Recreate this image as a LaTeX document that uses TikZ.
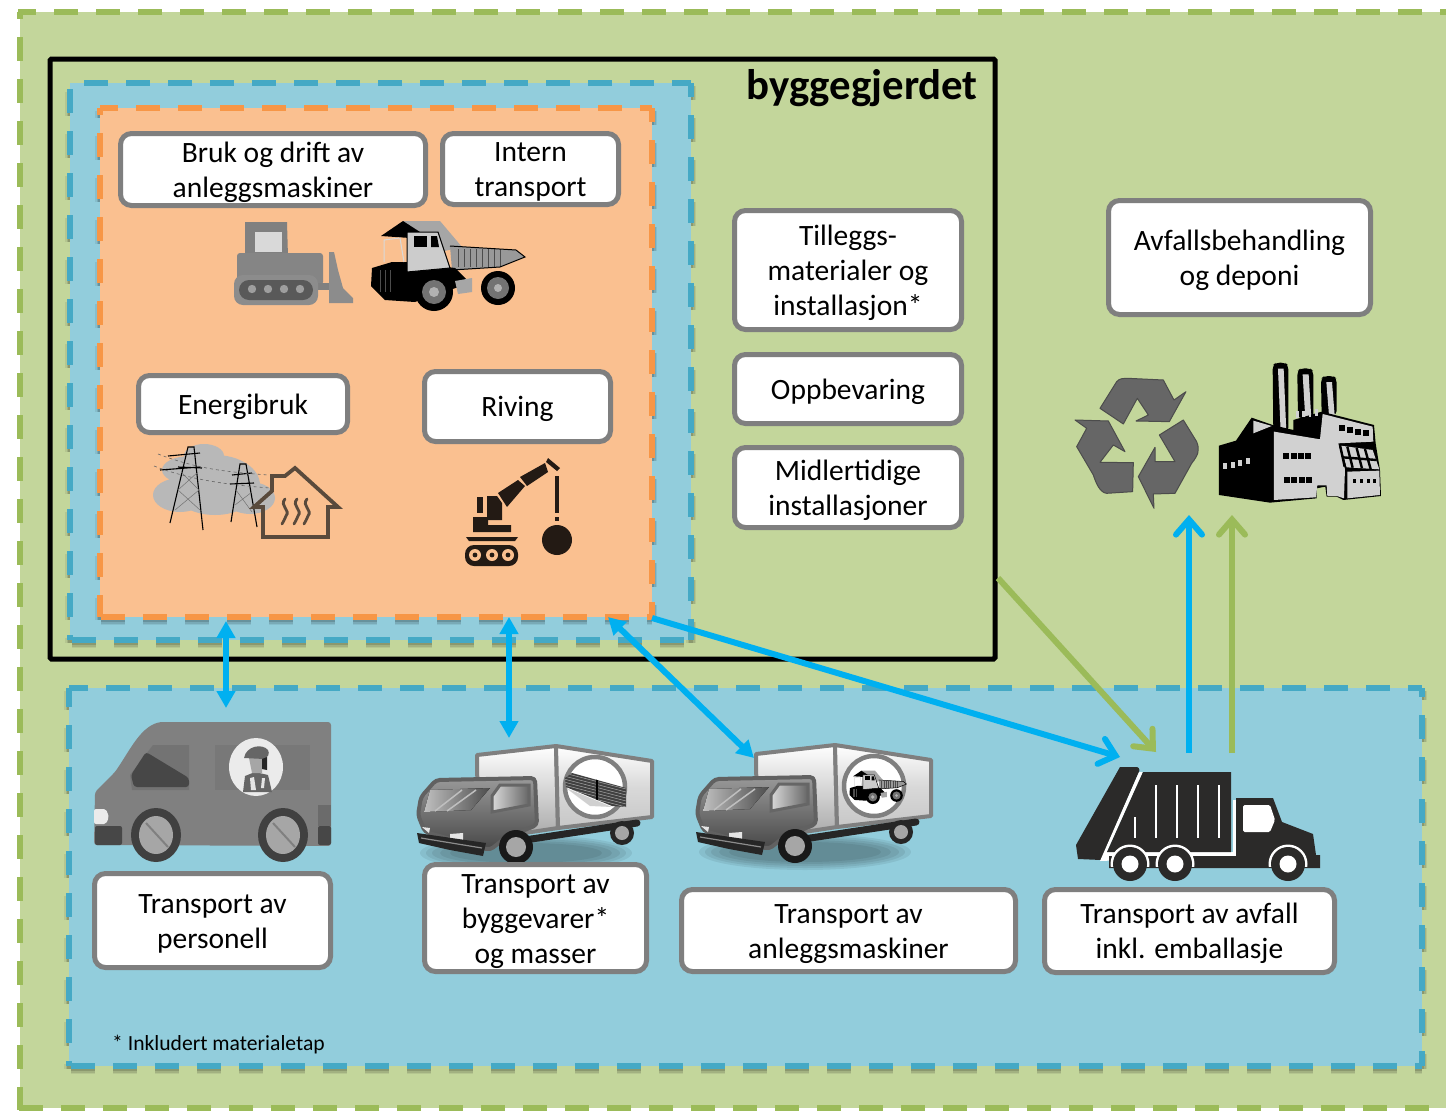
\documentclass[tikz,border=0pt]{standalone}
\usepackage{fontspec}
\setmainfont{Carlito}
\usetikzlibrary{arrows.meta,shapes.geometric}
\definecolor{grfill}{HTML}{C3D69B}
\definecolor{grdash}{HTML}{9BBB59}
\definecolor{blfill}{HTML}{92CDDC}
\definecolor{bldash}{HTML}{45A9C5}
\definecolor{orfill}{HTML}{FAC090}
\definecolor{ordash}{HTML}{F79646}
\definecolor{arblue}{HTML}{00B0F0}
\definecolor{boxgray}{HTML}{7F7F7F}
\definecolor{craned}{HTML}{231A14}
\definecolor{garb}{HTML}{2B2A29}
\definecolor{houseb}{HTML}{594A3C}
\newcommand{\tsa}{\rule{0pt}{26pt}}
\newcommand{\tsb}{\rule[-6pt]{0pt}{6pt}}
\tikzset{
  boxn/.style={draw=boxgray,line width=5pt,fill=white,rounded corners=11pt,align=center,inner sep=0pt,text=black,
    font=\fontsize{29.5}{35}\selectfont},
  dblarrow/.style={draw=arblue,line width=6pt,{Triangle[width=18pt,length=17pt]}-{Triangle[width=18pt,length=17pt]}},
  openarrow/.style={line width=6pt,-{Straight Barb[length=15pt,width=26pt,line cap=round,line width=6pt]}},
  edge5/.style={line width=5.5pt,dash pattern=on 24pt off 18pt},
}
% x1 y1 x2 y2 colour, phase top right bottom left
\newcommand{\frameedges}[9]{%
  \draw[edge5,draw=#5,dash phase=#6pt] (#1,#2) -- (#3,#2);
  \draw[edge5,draw=#5,dash phase=#7pt] (#3,#2) -- (#3,#4);
  \draw[edge5,draw=#5,dash phase=#8pt] (#1,#4) -- (#3,#4);
  \draw[edge5,draw=#5,dash phase=#9pt] (#1,#2) -- (#1,#4);
}
% x1 y1 x2 y2, phase right bottom left
\newcommand{\frameshadow}[7]{%
  \begin{scope}[shift={(0,3)},draw=black,dash pattern=on 24pt off 18pt]
   \foreach \lw/\op in {10/.07,7/.1,4/.14}{
    \draw[line width=\lw pt,draw opacity=\op,dash phase=#5pt] (#3,#2) -- (#3,#4);
    \draw[line width=\lw pt,draw opacity=\op,dash phase=#6pt] (#1,#4) -- (#3,#4);
    \draw[line width=\lw pt,draw opacity=\op,dash phase=#7pt] (#1,#2) -- (#1,#4);
   }
  \end{scope}
}
% mining dump truck, drawn around (448,265)
\newcommand{\dumptruck}[1]{%
  \fill[black!35] (403,221) -- (440,221) -- (462,247) -- (440,252) -- (410,232) -- cycle;
  \fill[black] (381,236) -- (403,221) -- (420,232) -- (410,238) -- cycle;
  \fill[black!40] (450,246) -- (516,250) -- (525,257) -- (500,267) -- (452,270) -- cycle;
  \foreach \xx in {458,464,470,476,482,488,494,500}{\draw[black!70,line width=#1] (\xx,249) -- (\xx,267);}
  \draw[black,line width=#1] (450,246) -- (516,250) -- (525,257) -- (500,267) -- (452,270);
  \fill[black] (371,286) -- (372,268) -- (392,262) -- (408,262) -- (455,268) -- (470,283) -- (415,302) -- (385,300) -- cycle;
  \draw[black!70,line width=#1] (380,270) -- (380,292) (385,270) -- (385,292) (390,270) -- (390,292);
  \draw[black,fill=black!20,line width=#1] (407,232) -- (438,232) -- (450,268) -- (407,272) -- cycle;
  \fill[black] (414,236) -- (427,236) -- (427,247) -- (414,247) -- cycle;
  \fill[black] (431,236) -- (437,236) -- (439,247) -- (431,247) -- cycle;
  \draw[black!15,line width=#1] (384,262) -- (384,240) -- (400,238) -- (404,262);
  \fill[black!35] (455,281) -- (472,278) -- (472,292) -- (458,294) -- cycle;
  \fill[black] (434,292) circle (19pt);
  \fill[black!55] (434,292) circle (12pt);
  \fill[black!30] (434,292) circle (5pt);
  \fill[black] (498,288) circle (17pt);
  \fill[black!55] (498,288) circle (11pt);
  \fill[black!30] (498,288) circle (4pt);
}
% box truck, drawn in the coordinates of the first one
\newcommand{\boxtruck}{%
  \foreach \sx/\sy in {106/18,100/16,94/14,86/12,76/10}{\fill[black,opacity=.07] (526,853) ellipse (\sx pt and \sy pt);}
  \draw[boxgray,line width=4pt,top color=white,bottom color=black!35,line join=round] (477,755) -- (556,746) -- (558,828) -- (478,840) -- cycle;
  \draw[boxgray,line width=4pt,top color=white,bottom color=black!22,middle color=white!85!black,line join=round] (556,746) -- (652,761) -- (652,817) -- (558,828) -- cycle;
  \draw[black!85,line width=7pt,line cap=round] (505,843) -- (637,823);
  \fill[black!85] (622,833) circle (12pt);
  \fill[black!35] (622,833) circle (7pt);
  \draw[black!62,line width=4pt,top color=black!40,bottom color=black!72,line join=round,rounded corners=4pt] (436,780) -- (535,778) -- (537,825) -- (505,838) -- (490,850) -- (425,832) -- (418,815) -- (421,797) -- cycle;
  \fill[left color=black!25,right color=black!70] (430,790) -- (490,788) -- (471,810) -- (424,812) -- cycle;
  \draw[white!75!black,line width=1.5pt] (435,811) -- (462,790) (447,811) -- (476,790);
  \draw[black!60,line width=3pt,left color=black!15,right color=black!60] (500,785) -- (529,785) -- (529,805) -- (492,812) -- (492,796) -- cycle;
  \fill[black!10] (450,834) -- (463,833) -- (463,840) -- (450,840) -- cycle;
  \fill[black!10] (422,827) -- (430,828) -- (429,833) -- cycle;
  \fill[black!85,line join=round] (417,833) -- (486,843) -- (483,856) -- (450,850) -- (419,843) -- cycle;
  \draw[black!45,line width=1.2pt] (421,838) -- (482,848);
  \fill[black!90] (516,847) circle (17pt);
  \fill[black!35] (516,847) circle (10pt);
  \draw[boxgray,line width=4.5pt,fill=white] (595,787) circle (30pt);
}
\begin{document}
\begin{tikzpicture}[x=1pt,y=-1pt]
\useasboundingbox (0,0) rectangle (1446,1111);
\clip (0,0) rectangle (1446,1111);
\fill[white] (0,0) rectangle (1446,1111);
% outer frame
\fill[grfill] (20,12) rectangle (1450,1108);
\draw[edge5,draw=grdash,dash phase=6pt] (18,12) -- (1450,12);
\draw[edge5,draw=grdash,dash phase=41pt] (18,1108) -- (1450,1108);
\draw[edge5,draw=grdash,dash phase=17pt] (20,12) -- (20,1110);
% site fence
\draw[black,line width=5pt,rounded corners=1.5pt] (50,59) rectangle (995,659);
% blue frame inside the fence
\frameshadow{70}{83}{691}{640}{10}{40}{36}
\fill[blfill] (70,83) rectangle (691,640);
\frameedges{70}{83}{691}{640}{bldash}{28}{10}{40}{36}
% orange frame
\frameshadow{100}{108}{652}{617}{10}{41}{17}
\fill[orfill] (100,108) rectangle (652,617);
\frameedges{100}{108}{652}{617}{ordash}{6}{10}{41}{17}
% lower blue frame
\frameshadow{69}{688}{1422}{1066}{15}{40}{5}
\fill[blfill] (69,688) rectangle (1422,1066);
\frameedges{69}{688}{1422}{1066}{bldash}{5}{15}{40}{5}
% heading and footnote
\node[anchor=east,inner sep=0pt,font=\fontsize{42.8}{48}\selectfont\bfseries] (fence) at (978,88) {byggegjerdet};
\node[anchor=west,inner sep=0pt,font=\fontsize{21.6}{24}\selectfont] (note) at (112,1045) {* Inkludert materialetap};
% bulldozer
\begin{scope}
  \fill[black!50] (245,222) -- (287,222) -- (288,257) -- (245,257) -- cycle;
  \fill[black!15] (255,232) rectangle (282,252);
  \fill[black!48,rounded corners=3pt] (237,253) rectangle (323,285);
  \fill[black!50] (312,283) rectangle (330,290);
  \fill[black!45,rounded corners=9pt] (234,275) rectangle (318,305);
  \fill[black!65,rounded corners=10pt] (239,280) rectangle (313,300);
  \foreach \wx in {252,268,284,300}{\fill[black!38] (\wx,289) circle (4.2pt);}
  \fill[black!45] (329,252) -- (334,252) -- (338,270) -- (343,288) -- (353,298) -- (353,303) -- (329,303) -- cycle;
\end{scope}
\dumptruck{1pt}
% power lines and house
\fill[black!28] (204,456) ellipse (20pt and 12pt) (190,470) ellipse (28pt and 14pt) (180,495) ellipse (27pt and 17pt) (215,485) ellipse (45pt and 30pt) (250,498) ellipse (25pt and 16pt);
\draw[black,line width=1.1pt] (170,523) -- (188,447) -- (194,447) -- (203,530)
  (168,456) -- (200,453) (178,467) -- (202,468) (160,470) -- (200,467)
  (231,522) -- (240,464) -- (246,464) -- (257,527) (232,475) -- (252,473) (230,484) -- (254,483);
\draw[black!55,line width=.5pt] (175,510) -- (199,490) -- (181,472) (200,510) -- (178,490) -- (198,472) (235,505) -- (252,492) (252,512) -- (236,490);
\draw[black!60,line width=.6pt,dashed] (158,454) .. controls (200,470) and (230,472) .. (268,475) (154,466) .. controls (190,480) and (230,485) .. (270,488);
\draw[houseb,line width=3.8pt,line join=miter] (254,507) -- (272,491) -- (272,476) -- (285,476) -- (295,468) -- (338,507) -- (328,507) -- (328,537) -- (263,537) -- (263,507) -- cycle;
\foreach \sx in {285,297,307}{
  \draw[houseb,line width=2.8pt,line cap=round] (\sx,499) .. controls (\sx-6,506) and (\sx+6,510) .. (\sx+1,516) .. controls (\sx-1,519) and (\sx-1,522) .. (\sx-3,524);
}
% wrecking crane
\begin{scope}[craned]
  \fill[craned,rounded corners=9pt] (465,545) rectangle (518,566);
  \foreach \wx in {475,492,508}{\fill[orfill] (\wx,555) circle (6pt); \fill[craned] (\wx,555) circle (2.4pt);}
  \fill[craned] (466,537) -- (518,537) -- (515,541) -- (469,541) -- cycle;
  \fill[craned] (473,517) -- (488,517) -- (488,525) -- (511,525) -- (511,532) -- (473,532) -- cycle;
  \fill[craned] (477,497) rectangle (483,513);
  \fill[craned] (487,496) -- (497,496) -- (502,503) -- (502,520) -- (487,520) -- cycle;
  \fill[craned] (498,493) -- (518,480) -- (525,486) -- (507,507) -- cycle;
  \fill[craned] (520,477) -- (545,463) -- (548,472) -- (527,486) -- cycle;
  \fill[craned] (548,458) -- (560,468) -- (557,471) -- (546,462) -- cycle;
  \fill[craned] (555,476) rectangle (559,513);
  \fill[craned] (555,517) rectangle (559,521);
  \fill[craned] (557,540) circle (15pt);
\end{scope}
% recycling sign
\begin{scope}[shift={(1050,350)},x=.3333pt,y=-.3333pt]
  \tikzset{recy/.style={fill=black!60,draw=black!70,line width=1pt,line join=round}}
  \draw[recy] (150,175) -- (200,95) .. controls (208,85) and (220,85) .. (235,85) -- (340,90) -- (372,150) -- (408,125) -- (358,215) -- (258,213) -- (295,195) -- (262,145) -- (220,222) -- cycle;
  \draw[recy] (75,210) -- (175,213) -- (225,305) -- (190,285) -- (150,337) -- (250,338) -- (248,425) -- (170,430) .. controls (150,428) and (138,400) .. (130,375) -- (80,290) -- (110,235) -- cycle;
  \draw[recy] (400,210) -- (440,275) .. controls (450,300) and (445,315) .. (425,340) -- (375,430) -- (310,432) -- (312,475) -- (265,380) -- (315,292) -- (315,335) -- (375,335) -- (328,255) -- cycle;
\end{scope}
% factory
\begin{scope}[shift={(1050,350)},x=.3333pt,y=-.3333pt]
  \foreach \xa/\xb/\ya/\yb in {668/715/38/245,742/790/55/205,813/860/78/195}{
    \fill[black,rounded corners=4pt] (\xa,\ya+8) -- (\xa+10,\ya) -- (\xb-10,\ya) -- (\xb,\ya+8) -- (\xb,\yb) -- (\xa+2,\yb) -- cycle;
    \fill[black!18] (\xa+16,\ya+18) -- (\xb-14,\ya+18) -- (\xb-6,\yb) -- (\xa+24,\yb) -- cycle;
  }
  \fill[black] (507,287) -- (558,272) -- (605,203) -- (668,225) -- (730,240) -- (730,210) -- (815,185) -- (972,225) -- (977,280) -- (990,360) -- (993,438) -- (880,450) -- (860,440) -- (830,440) -- (826,410) -- (800,415) -- (800,445) -- (660,458) -- (507,435) -- cycle;
  \fill[black!18] (672,245) -- (810,268) -- (818,192) -- (968,230) -- (970,275) -- (865,280) -- (885,358) -- (882,445) -- (860,438) -- (832,438) -- (830,406) -- (802,406) -- (798,442) -- (672,450) -- cycle;
  \fill[black!18] (610,212) -- (665,228) -- (610,250) -- cycle;
  \fill[black!18] (892,365) -- (988,362) -- (990,435) -- (892,445) -- cycle;
  \fill[black!18] (872,287) -- (968,300) -- (988,358) -- (890,352) -- cycle;
  \draw[black,line width=2.4pt] (884,350) -- (870,285) (908,353) -- (892,290) (936,355) -- (920,294) (962,357) -- (945,297) (878,322) -- (980,330);
  \foreach \wx in {738,756,776,796}{\fill[black!18] (\wx,208+\wx*-.1+50) rectangle +(8,20);}
  \foreach \wx in {700,722,744,766}{\fill[black] (\wx,310) rectangle +(18,16);}
  \foreach \wx in {702,724,746,768}{\fill[black] (\wx,382) rectangle +(18,16);}
  \foreach \wx/\wy in {868/225,892/230,916/236,940/241}{\fill[black] (\wx,\wy) rectangle +(18,18);}
  \foreach \wx/\wy in {520/340,542/336,564/331,588/325}{\fill[black!18] (\wx,\wy) rectangle +(12,18);}
  \foreach \wx in {908,930,950,968}{\fill[black] (\wx,386) rectangle +(10,14);}
\end{scope}
% van
\fill[black!50,rounded corners=3pt] (331,722) -- (160,722) .. controls (140,728) and (130,750) .. (115,772) -- (95,792) -- (94,845) -- (331,846) -- cycle;
\fill[black!55] (153,745) -- (189,745) -- (189,790) -- (132,790) -- (130,775) -- cycle;
\fill[black!53] (215,745) rectangle (310,790);
\fill[black!72,rounded corners=3pt] (146,752) -- (189,778) -- (189,787) -- (134,787) -- (131,775) -- cycle;
\fill[black!8,rounded corners=2pt] (94,809) -- (106,809) -- (109,817) -- (106,824) -- (94,824) -- cycle;
\fill[black!72,rounded corners=2pt] (95,826) rectangle (122,845);
\fill[black!72,rounded corners=2pt] (318,826) rectangle (331,845);
\fill[black!58] (318,805) rectangle (331,826);
\foreach \wx in {156,283}{
  \fill[black!75] (\wx,835) ellipse (25pt and 27pt);
  \fill[black!35] (\wx,835) ellipse (17pt and 19pt);
  \draw[black!50,line width=2pt] (\wx-10,823) -- (\wx+12,847);
}
\fill[white!92!black] (256,767) ellipse (27pt and 29pt);
\fill[black!60] (243,792) -- (245,776) -- (255,772) -- (268,775) -- (272,792) -- cycle;
\fill[black!10] (250,778) -- (254,777) -- (256,790) -- (251,790) -- cycle;
\fill[black!10] (262,778) -- (265,778) -- (264,788) -- (261,788) -- cycle;
\fill[black!35] (249,758) -- (263,758) -- (262,773) -- (252,773) -- cycle;
\fill[black!60] (244,758) .. controls (246,746) and (262,743) .. (268,750) .. controls (270,754) and (268,757) .. (264,759) -- cycle;
\fill[black!85] (262,759) -- (267,757) -- (267,770) -- (262,769) -- cycle;
% box trucks
\boxtruck
\begin{scope}
  \clip (565,778) -- (572,773) -- (626,788) -- (626,807) -- (612,806) -- (566,787) -- cycle;
  \fill[black!75] (560,770) rectangle (630,810);
  \foreach \ly in {772,775,778,781,784,787,790,793,796,799,802,805}{\draw[white!65!black,line width=.5pt] (560,\ly-6) -- (630,\ly+12);}
  \draw[black,line width=1.2pt] (597,776) -- (597,802);
\end{scope}
\fill[black!30,opacity=.6] (566,788) -- (612,807) -- (590,806) -- cycle;
\begin{scope}[shift={(279,-1)}]
  \boxtruck
  \begin{scope}[shift={(599,788)},scale=.37,shift={(-448,-265)}]
    \dumptruck{.5pt}
  \end{scope}
\end{scope}
% garbage truck
\fill[garb] (1120,767) -- (1137,767) .. controls (1140,768) and (1140,771) .. (1138,774) -- (1101,860) -- (1078,859) -- (1076,845) -- cycle;
\fill[white] (1139,772) -- (1143,772) -- (1107,852) -- (1233,852) -- (1233,800) -- (1236,800) -- (1236,856) -- (1100,861) -- cycle;
\fill[garb] (1143,772) -- (1231,772) -- (1231,852) -- (1107,852) -- cycle;
\fill[garb] (1236,798) -- (1273,798) -- (1282,822) -- (1313,834) -- (1316,855) -- (1320,855) -- (1320,868) -- (1109,868) -- (1109,856) -- (1236,856) -- cycle;
\fill[white,rounded corners=1.5pt] (1243,805) -- (1270,805) -- (1275,820) -- (1270,832) -- (1243,832) -- cycle;
\foreach \sx in {1156,1177,1198,1219}{\draw[white,line width=1.2pt] (\sx,785) -- (\sx,838);}
\draw[white,line width=1.2pt] (1135,817) -- (1135,838);
\foreach \wx in {1130,1175,1288}{
  \begin{scope}
    \clip (\wx-24,840) rectangle (\wx+24,866);
    \fill[white] (\wx,864) circle (19.5pt);
  \end{scope}
  \fill[garb] (\wx,864) circle (17pt);
  \fill[white] (\wx,864) circle (8.5pt);
}
% text boxes
\node[boxn,minimum width=305pt,minimum height=72pt] (bruk) at (273,169.5) {\tsa Bruk og drift av\\anleggsmaskiner\tsb};
\node[boxn,minimum width=176pt,minimum height=71pt] (intern) at (530.5,169) {\tsa Intern\\transport\tsb};
\node[boxn,minimum width=209pt,minimum height=57pt] (energi) at (243,404) {\tsa Energibruk\tsb};
\node[boxn,minimum width=186pt,minimum height=70pt] (riving) at (517.5,406.5) {\tsa Riving\tsb};
\node[boxn,minimum width=227pt,minimum height=119pt] (tillegg) at (848,270) {\tsa Tilleggs-\\materialer og\\installasjon*\tsb};
\node[boxn,minimum width=227pt,minimum height=69pt] (oppb) at (848,389) {\tsa Oppbevaring\tsb};
\node[boxn,minimum width=227pt,minimum height=80pt] (midl) at (848,487.5) {\tsa Midlertidige\\installasjoner\tsb};
\node[boxn,minimum width=262pt,minimum height=114pt] (avf) at (1239.5,257.5) {\tsa Avfallsbehandling\\og deponi\tsb};
\node[boxn,minimum width=236pt,minimum height=94pt] (pers) at (212.5,920.5) {\tsa Transport av\\personell\tsb};
\node[boxn,minimum width=222pt,minimum height=107pt] (bygg) at (535.5,918) {\tsa Transport av\\byggevarer*\\og masser\tsb};
\node[boxn,minimum width=334pt,minimum height=82pt] (anl) at (848.5,930.5) {\tsa Transport av\\anleggsmaskiner\tsb};
\node[boxn,minimum width=290pt,minimum height=83pt] (avft) at (1189.5,931) {\tsa Transport av avfall\\inkl. emballasje\tsb};
% connector ends
\coordinate (a1s) at (226,621);
\coordinate (a1e) at (226,708);
\coordinate (a2s) at (509,617);
\coordinate (a2e) at (509,738);
\coordinate (a3s) at (608,617);
\coordinate (a3e) at (754,758);
\coordinate (a4s) at (652,618);
\coordinate (a4e) at (1120,757);
\coordinate (a5s) at (998,578);
\coordinate (a5e) at (1156,752);
\coordinate (a6s) at (1189,753);
\coordinate (a6e) at (1189,515);
\coordinate (a7s) at (1232,753);
\coordinate (a7e) at (1232,515);
\draw[dblarrow] (a1s) -- (a1e);
\draw[dblarrow] (a2s) -- (a2e);
\draw[dblarrow] (a3s) -- (a3e);
\draw[openarrow,draw=arblue] (a4s) -- (a4e);
\draw[openarrow,draw=grdash] (a5s) -- (a5e);
\draw[openarrow,draw=arblue] (a6s) -- (a6e);
\draw[openarrow,draw=grdash] (a7s) -- (a7e);
\end{tikzpicture}
\end{document}
